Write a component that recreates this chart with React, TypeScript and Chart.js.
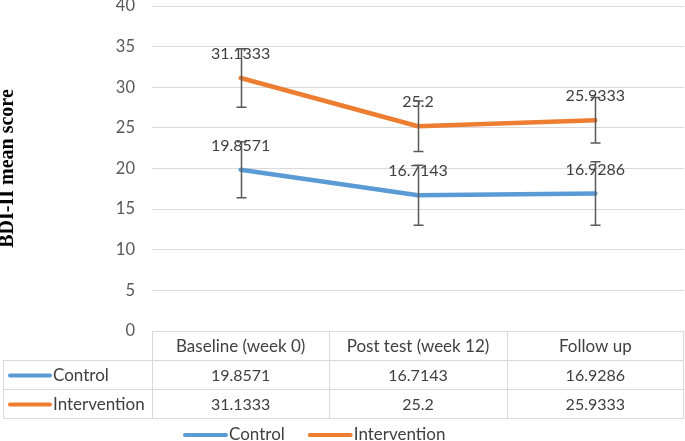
import React, { useEffect, useRef } from 'react';
import { Chart, registerables } from 'chart.js';

Chart.register(...registerables);

const categories = ['Baseline (week 0)', 'Post test (week 12)', 'Follow up'];
const seriesNames = ['Control', 'Intervention'];
const controlValues = [19.8571, 16.7143, 16.9286];
const interventionValues = [31.1333, 25.2, 25.9333];
const controlErrors = [3.45, 3.7, 3.9];
const interventionErrors = [3.6, 3.1, 2.8];
const seriesColors = ['#5B9BD5', '#ED7D31'];
const yMin = 0;
const yMax = 40;
const yStep = 5;
const yTitle = 'BDI-II mean score';

const FONT = 'Lato';
const TEXT = '#404040';
const GRID = '#D9D9D9';
const NUM_FONT = `16px ${FONT}`;
const WORD_FONT = `17px ${FONT}`;

const extrasPlugin = {
  id: 'excelExtras',
  afterDatasetsDraw(chart: any) {
    const ctx = chart.ctx;
    const yScale = chart.scales.y;
    const errs = [controlErrors, interventionErrors];
    ctx.save();
    // data labels
    ctx.font = NUM_FONT;
    ctx.fillStyle = TEXT;
    ctx.textAlign = 'center';
    ctx.textBaseline = 'middle';
    chart.data.datasets.forEach((ds: any, di: number) => {
      const meta = chart.getDatasetMeta(di);
      meta.data.forEach((pt: any, i: number) => {
        ctx.fillText(String(ds.data[i]), pt.x, pt.y - 24);
      });
    });
    // error bars
    ctx.strokeStyle = '#595959';
    ctx.lineWidth = 1.5;
    chart.data.datasets.forEach((ds: any, di: number) => {
      const meta = chart.getDatasetMeta(di);
      meta.data.forEach((pt: any, i: number) => {
        const v = ds.data[i];
        const e = errs[di][i];
        const yt = yScale.getPixelForValue(v + e);
        const yb = yScale.getPixelForValue(v - e);
        const x = Math.round(pt.x) + 0.5;
        ctx.beginPath();
        ctx.moveTo(x, yt);
        ctx.lineTo(x, yb);
        ctx.moveTo(x - 5, yt);
        ctx.lineTo(x + 5, yt);
        ctx.moveTo(x - 5, yb);
        ctx.lineTo(x + 5, yb);
        ctx.stroke();
      });
    });
    ctx.restore();
  },
  afterDraw(chart: any) {
    const ctx = chart.ctx;
    const xScale = chart.scales.x;
    const area = chart.chartArea;
    const half = (xScale.getPixelForValue(1) - xScale.getPixelForValue(0)) / 2;
    const top = Math.round(area.bottom);
    const rowH = 29;
    const leftEdge = 3;
    const bounds: number[] = [Math.round(area.left)];
    categories.forEach((_, i) => bounds.push(Math.round(xScale.getPixelForValue(i) + half)));
    bounds[bounds.length - 1] = Math.round(area.right) - 1;
    const rows = [controlValues, interventionValues];
    ctx.save();
    ctx.strokeStyle = GRID;
    ctx.lineWidth = 1;
    ctx.beginPath();
    // header
    ctx.moveTo(bounds[0], top + 0.5);
    ctx.lineTo(bounds[bounds.length - 1] + 1, top + 0.5);
    for (let r = 1; r <= rows.length + 1; r++) {
      const yy = top + r * rowH + 0.5;
      ctx.moveTo(leftEdge, yy);
      ctx.lineTo(bounds[bounds.length - 1] + 1, yy);
    }
    bounds.forEach((b) => {
      ctx.moveTo(b + 0.5, top);
      ctx.lineTo(b + 0.5, top + (rows.length + 1) * rowH + 1);
    });
    ctx.moveTo(leftEdge + 0.5, top + rowH);
    ctx.lineTo(leftEdge + 0.5, top + (rows.length + 1) * rowH + 1);
    ctx.stroke();

    ctx.fillStyle = TEXT;
    ctx.textBaseline = 'middle';
    ctx.textAlign = 'center';
    ctx.font = WORD_FONT;
    categories.forEach((c, i) => {
      ctx.fillText(c, xScale.getPixelForValue(i), top + rowH / 2 + 1);
    });
    rows.forEach((vals, r) => {
      const cy = top + rowH * (r + 1.5) + 1;
      ctx.font = NUM_FONT;
      ctx.textAlign = 'center';
      vals.forEach((v, i) => {
        ctx.fillText(String(v), xScale.getPixelForValue(i), cy);
      });
      // swatch
      ctx.strokeStyle = seriesColors[r];
      ctx.lineWidth = 4;
      ctx.lineCap = 'round';
      ctx.beginPath();
      ctx.moveTo(10, cy);
      ctx.lineTo(50, cy);
      ctx.stroke();
      ctx.font = WORD_FONT;
      ctx.textAlign = 'left';
      ctx.fillText(seriesNames[r], 53, cy);
    });

    // legend
    const ly = 435;
    let lx = 185;
    ctx.font = WORD_FONT;
    ctx.textAlign = 'left';
    seriesNames.forEach((name, i) => {
      ctx.strokeStyle = seriesColors[i];
      ctx.lineWidth = 4;
      ctx.lineCap = 'round';
      ctx.beginPath();
      ctx.moveTo(lx, ly);
      ctx.lineTo(lx + 41, ly);
      ctx.stroke();
      ctx.fillText(name, lx + 44, ly);
      lx += 44 + ctx.measureText(name).width + 25;
    });
    ctx.restore();
  },
};

export default function App() {
  const canvasRef = useRef<HTMLCanvasElement>(null);

  useEffect(() => {
    document.body.style.margin = '0';
    const canvas = canvasRef.current;
    if (!canvas) return;
    const chart = new Chart(canvas, {
      type: 'line',
      data: {
        labels: categories,
        datasets: [
          {
            label: seriesNames[0],
            data: controlValues,
            borderColor: seriesColors[0],
            backgroundColor: seriesColors[0],
            borderWidth: 4.5,
            pointRadius: 0,
            tension: 0,
            borderCapStyle: 'round',
            borderJoinStyle: 'round',
          },
          {
            label: seriesNames[1],
            data: interventionValues,
            borderColor: seriesColors[1],
            backgroundColor: seriesColors[1],
            borderWidth: 4.5,
            pointRadius: 0,
            tension: 0,
            borderCapStyle: 'round',
            borderJoinStyle: 'round',
          },
        ],
      },
      options: {
        animation: false,
        responsive: false,
        maintainAspectRatio: false,
        layout: { padding: { top: 0, right: 1, left: 0, bottom: 0 } },
        plugins: {
          legend: { display: false },
          tooltip: { enabled: false },
        },
        scales: {
          x: {
            type: 'category',
            offset: true,
            grid: { display: false },
            border: { display: false },
            ticks: { display: false },
            afterFit: (s: any) => {
              s.height = 110;
            },
          },
          y: {
            min: yMin,
            max: yMax,
            ticks: {
              stepSize: yStep,
              padding: 17,
              color: '#595959',
              font: { family: FONT, size: 16.5 },
            },
            grid: { color: GRID, lineWidth: 1, drawTicks: false },
            border: { display: false },
            title: {
              display: true,
              text: yTitle,
              color: '#000000',
              font: { family: 'Liberation Serif', size: 20, weight: 'bold', lineHeight: 0.8 },
              padding: 0,
            },
            afterFit: (s: any) => {
              s.width = 152;
              s.paddingTop = 6;
              s.paddingBottom = 0;
            },
          },
        },
      },
      plugins: [extrasPlugin],
    });
    return () => chart.destroy();
  }, []);

  return (
    <div style={{ position: 'absolute', left: 0, top: 0, width: 685, height: 441 }}>
      <canvas ref={canvasRef} width={685} height={441} style={{ width: 685, height: 441 }} />
    </div>
  );
}
